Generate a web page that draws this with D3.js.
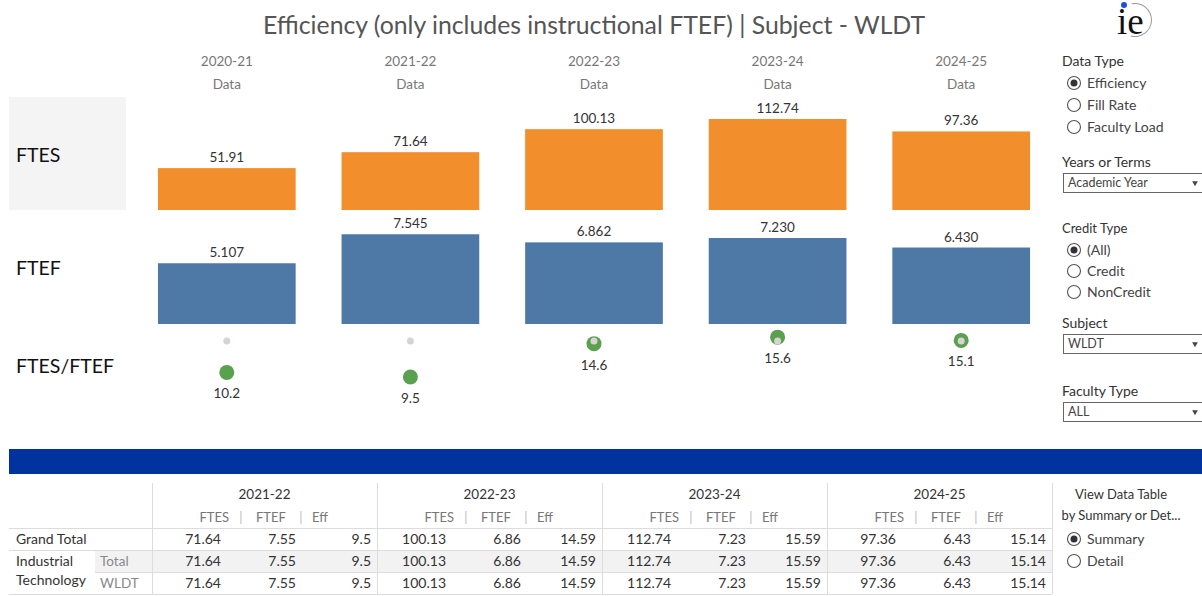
<!DOCTYPE html>
<html lang="en">
<head>
    <meta charset="UTF-8">
    <title>Efficiency | Subject - WLDT</title>
    <script src="https://d3js.org/d3.v7.min.js"></script>
    <style>
        body { margin: 0; background: #fff; }
        svg text { font-family: Lato, "Noto Sans", sans-serif; }
    </style>
</head>
<body>
<div id="chart"></div>
<script>
// values
let years = ["2020-21", "2021-22", "2022-23", "2023-24", "2024-25"]
let ftes = [51.91, 71.64, 100.13, 112.74, 97.36]
let ftef = [5.107, 7.545, 6.862, 7.230, 6.430]
let eff = [10.2, 9.5, 14.6, 15.6, 15.1]
let effGoal = [15, 15, 15, 15, 15]

// data table (below the blue band)
let tableYears = ["2021-22", "2022-23", "2023-24", "2024-25"]
let tableFtes = [71.64, 100.13, 112.74, 97.36]
let tableFtef = [7.55, 6.86, 7.23, 6.43]
let tableEff = [9.5, 14.59, 15.59, 15.14]
let tableRows = ["Grand Total", "Total", "WLDT"]

let width = 1202, height = 596

let svg = d3.select("#chart").append("svg")
    .attr("width", width)
    .attr("height", height)

// title
svg.append("text")
    .attr("x", 594).attr("y", 34)
    .attr("text-anchor", "middle")
    .attr("fill", "#555")
    .style("font-size", "24.8px")
    .text("Efficiency (only includes instructional FTEF) | Subject - WLDT")

// ie logo
let logo = svg.append("g")
logo.append("path")
    .attr("d", d3.arc()({innerRadius: 16, outerRadius: 17, startAngle: -0.2, endAngle: 3.4}))
    .attr("transform", "translate(1135,20)")
    .attr("fill", "#999")
logo.append("text")
    .attr("x", 1117).attr("y", 34)
    .style("font-family", "'Liberation Serif', 'DejaVu Serif', serif")
    .style("font-size", "37px")
    .attr("fill", "#111")
    .text("ie")
logo.append("circle").attr("cx", 1124).attr("cy", 5).attr("r", 3).attr("fill", "#1a4fe0")

// scales
let x = d3.scaleBand().domain(years).range([135, 1053]).paddingInner(0.25).paddingOuter(0.125)
let yFtes = d3.scaleLinear().domain([0, 140]).range([210, 97])
let yFtef = d3.scaleLinear().domain([0, 9.5]).range([324, 211])
let yEff = d3.scaleLinear().domain([0, 17]).range([439, 328])

// column headers
svg.selectAll("yearHead").data(years).enter().append("text")
    .attr("x", d => x(d) + x.bandwidth() / 2).attr("y", 66)
    .attr("text-anchor", "middle").attr("fill", "#777")
    .style("font-size", "13.5px")
    .text(d => d)
svg.selectAll("dataHead").data(years).enter().append("text")
    .attr("x", d => x(d) + x.bandwidth() / 2).attr("y", 89)
    .attr("text-anchor", "middle").attr("fill", "#777")
    .style("font-size", "13.5px")
    .text("Data")

// row headers
svg.append("rect").attr("x", 9).attr("y", 97).attr("width", 117).attr("height", 113).attr("fill", "#f4f4f4")
let rowHeads = [["FTES", 162], ["FTEF", 275], ["FTES/FTEF", 373]]
svg.selectAll("rowHead").data(rowHeads).enter().append("text")
    .attr("x", 16).attr("y", d => d[1])
    .attr("fill", "#111")
    .style("font-size", "19.5px")
    .text(d => d[0])

// FTES bars
svg.selectAll("ftesBar").data(ftes).enter().append("rect")
    .attr("x", (d, i) => x(years[i]))
    .attr("y", d => yFtes(d))
    .attr("width", x.bandwidth())
    .attr("height", d => yFtes(0) - yFtes(d))
    .attr("fill", "#f28e2b")
svg.selectAll("ftesLab").data(ftes).enter().append("text")
    .attr("x", (d, i) => x(years[i]) + x.bandwidth() / 2)
    .attr("y", d => yFtes(d) - 6)
    .attr("text-anchor", "middle").attr("fill", "#333")
    .style("font-size", "13.5px")
    .text(d => d3.format(".2f")(d))

// FTEF bars
svg.selectAll("ftefBar").data(ftef).enter().append("rect")
    .attr("x", (d, i) => x(years[i]))
    .attr("y", d => yFtef(d))
    .attr("width", x.bandwidth())
    .attr("height", d => yFtef(0) - yFtef(d))
    .attr("fill", "#4e79a7")
svg.selectAll("ftefLab").data(ftef).enter().append("text")
    .attr("x", (d, i) => x(years[i]) + x.bandwidth() / 2)
    .attr("y", d => yFtef(d) - 6)
    .attr("text-anchor", "middle").attr("fill", "#333")
    .style("font-size", "13.5px")
    .text(d => d3.format(".3f")(d))

// FTES/FTEF dots
svg.selectAll("effDot").data(eff).enter().append("circle")
    .attr("cx", (d, i) => x(years[i]) + x.bandwidth() / 2)
    .attr("cy", d => yEff(d))
    .attr("r", 7.5)
    .attr("fill", "#59a14f")
svg.selectAll("goalDot").data(effGoal).enter().append("circle")
    .attr("cx", (d, i) => x(years[i]) + x.bandwidth() / 2)
    .attr("cy", d => yEff(d))
    .attr("r", 3.5)
    .attr("fill", "#d9d2d2")
svg.selectAll("effLab").data(eff).enter().append("text")
    .attr("x", (d, i) => x(years[i]) + x.bandwidth() / 2)
    .attr("y", d => yEff(d) + 26)
    .attr("text-anchor", "middle").attr("fill", "#333")
    .style("font-size", "13.5px")
    .text(d => d3.format(".1f")(d))

// right side controls
function label(t, px, py, size, color) {
    svg.append("text").attr("x", px).attr("y", py)
        .attr("fill", color || "#333").style("font-size", (size || 14) + "px").text(t)
}
function radio(t, py, on) {
    svg.append("circle").attr("cx", 1074).attr("cy", py).attr("r", 6.5)
        .attr("fill", "#fff").attr("stroke", "#555").attr("stroke-width", 1.1)
    if (on) svg.append("circle").attr("cx", 1074).attr("cy", py).attr("r", 3.5).attr("fill", "#333")
    label(t, 1087, py + 5, 14, "#444")
}
function dropdown(t, py) {
    svg.append("rect").attr("x", 1063.5).attr("y", py + 0.5).attr("width", 145).attr("height", 19)
        .attr("fill", "#fff").attr("stroke", "#666")
    label(t, 1068, py + 14, 12.5, "#444")
    svg.append("path").attr("d", d3.symbol(d3.symbolTriangle, 14)())
        .attr("transform", "translate(1195," + (py + 10) + ") rotate(180)").attr("fill", "#444")
}
label("Data Type", 1062, 66)
radio("Efficiency", 83, true)
radio("Fill Rate", 105)
radio("Faculty Load", 127)
label("Years or Terms", 1062, 167)
dropdown("Academic Year", 173)
label("Credit Type", 1062, 233, 13)
radio("(All)", 250, true)
radio("Credit", 271)
radio("NonCredit", 292)
label("Subject", 1062, 328)
dropdown("WLDT", 334)
label("Faculty Type", 1062, 396)
dropdown("ALL", 402)

// blue band
svg.append("rect").attr("x", 9).attr("y", 449).attr("width", 1193).attr("height", 25).attr("fill", "#0033a0")

// data table
let tx = d3.scaleBand().domain(tableYears).range([152, 1052])
let tRow = d3.scaleBand().domain(tableRows).range([528, 594])
let grid = "#dcdcdc"

svg.append("rect").attr("x", 95).attr("y", tRow("Total")).attr("width", 957).attr("height", tRow.bandwidth()).attr("fill", "#f2f2f2")

svg.append("line").attr("x1", 9).attr("x2", 1052).attr("y1", 528.5).attr("y2", 528.5).attr("stroke", grid)
svg.append("line").attr("x1", 9).attr("x2", 1052).attr("y1", 550.5).attr("y2", 550.5).attr("stroke", grid)
svg.append("line").attr("x1", 95).attr("x2", 1052).attr("y1", 572.5).attr("y2", 572.5).attr("stroke", grid)
svg.append("line").attr("x1", 9).attr("x2", 1052).attr("y1", 594.5).attr("y2", 594.5).attr("stroke", grid)
svg.selectAll("vline").data(tableYears.concat(["end"])).enter().append("line")
    .attr("x1", d => d === "end" ? 1052.5 : tx(d) + 0.5)
    .attr("x2", d => d === "end" ? 1052.5 : tx(d) + 0.5)
    .attr("y1", 483).attr("y2", 594).attr("stroke", grid)

svg.selectAll("tYear").data(tableYears).enter().append("text")
    .attr("x", d => tx(d) + tx.bandwidth() / 2).attr("y", 499)
    .attr("text-anchor", "middle").attr("fill", "#333")
    .style("font-size", "13.5px")
    .text(d => d)

let subHead = svg.selectAll("tSub").data(tableYears).enter().append("g")
    .attr("transform", d => "translate(" + tx(d) + ",522)")
    .attr("fill", "#777").style("font-size", "13px")
subHead.append("text").attr("x", 77).attr("text-anchor", "end").text("FTES")
subHead.append("text").attr("x", 89).attr("text-anchor", "middle").attr("fill", "#bbb").text("|")
subHead.append("text").attr("x", 104).text("FTEF")
subHead.append("text").attr("x", 149).attr("text-anchor", "middle").attr("fill", "#bbb").text("|")
subHead.append("text").attr("x", 160).text("Eff")

let fmt = v => String(+v.toFixed(2))
tableRows.forEach(function(r) {
    let cy = tRow(r) + tRow.bandwidth() / 2 + 5
    let cells = svg.selectAll("cell").data(tableYears).enter().append("g")
        .attr("transform", d => "translate(" + tx(d) + "," + cy + ")")
        .attr("fill", "#333").attr("text-anchor", "end").style("font-size", "14px")
    cells.append("text").attr("x", 69).text((d, i) => tableFtes[i].toFixed(2))
    cells.append("text").attr("x", 144).text((d, i) => tableFtef[i].toFixed(2))
    cells.append("text").attr("x", 219).text((d, i) => fmt(tableEff[i]))
})

label("Grand Total", 16, 544, 14, "#333")
label("Industrial", 16, 566, 14, "#333")
label("Technology", 16, 585, 14, "#333")
label("Total", 100, 566, 13.5, "#888")
label("WLDT", 100, 588, 13.5, "#888")

// table view toggle
svg.append("text").attr("x", 1121).attr("y", 499).attr("text-anchor", "middle")
    .attr("fill", "#333").style("font-size", "13px").text("View Data Table")
svg.append("text").attr("x", 1121).attr("y", 520).attr("text-anchor", "middle")
    .attr("fill", "#333").style("font-size", "13px").text("by Summary or Det...")
radio("Summary", 539, true)
radio("Detail", 561)
</script>
</body>
</html>
